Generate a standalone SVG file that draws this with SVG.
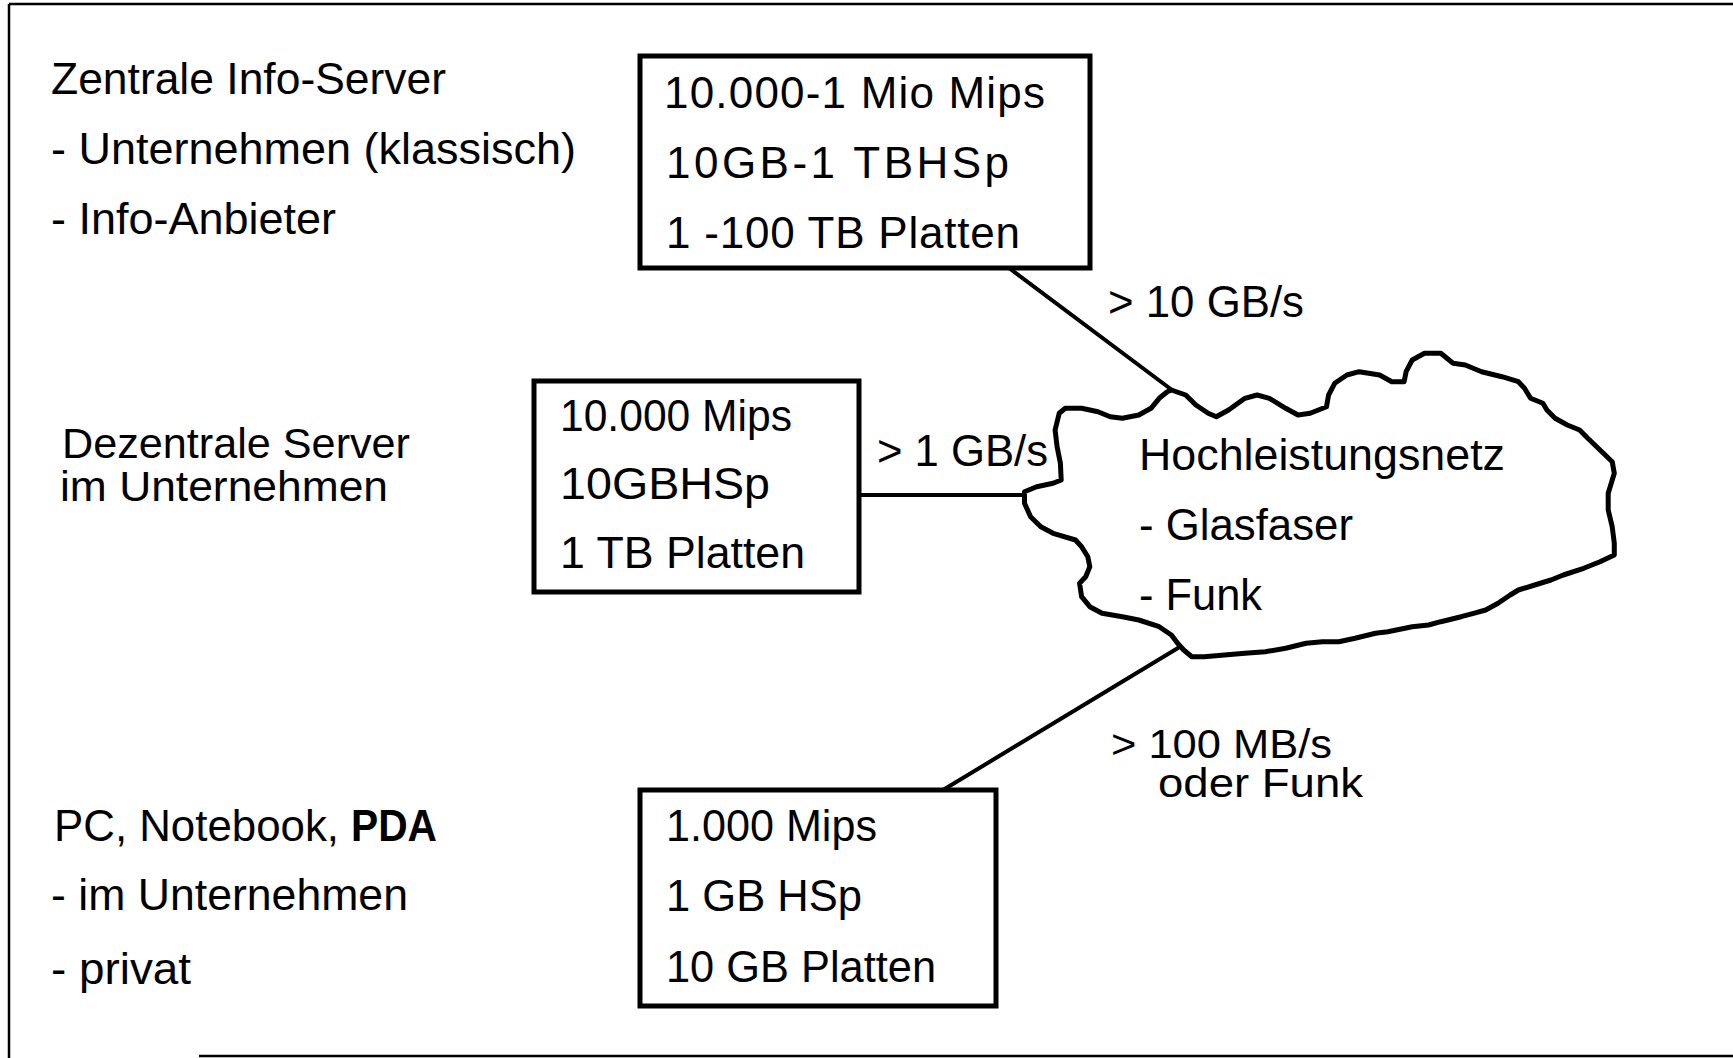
<svg xmlns="http://www.w3.org/2000/svg" width="1733" height="1058" viewBox="0 0 1733 1058">
<style>
  text { font-family: "Liberation Sans", Arial, Helvetica, sans-serif; font-size: 44px; fill: #000; }
  .b { font-weight: bold; }
  .t2 { font-size: 42px; }
  .t3 { font-size: 40px; }
  .box { fill: #fff; stroke: #000; stroke-width: 5; }
  .con { fill: none; stroke: #000; stroke-width: 4; stroke-linecap: round; }
  .frame { fill: none; stroke: #000; stroke-width: 2.5; }
  .cloud { fill: #fff; stroke: #000; stroke-width: 5; stroke-linejoin: round; }
</style>
<rect width="1733" height="1058" fill="#fff"/>
<g id="frame">
  <line class="frame" x1="9" y1="4" x2="1733" y2="4"/>
  <line class="frame" x1="9" y1="4" x2="9" y2="1058"/>
  <line class="frame" x1="199" y1="1056" x2="1733" y2="1056" stroke-width="2"/>
</g>
<g id="labels-left">
  <text x="51" y="94" textLength="395" lengthAdjust="spacingAndGlyphs">Zentrale Info-Server</text>
  <text x="51" y="164" textLength="525" lengthAdjust="spacingAndGlyphs">- Unternehmen (klassisch)</text>
  <text x="51" y="234" textLength="285" lengthAdjust="spacingAndGlyphs">- Info-Anbieter</text>
  <text class="t2" x="62" y="458" textLength="348" lengthAdjust="spacingAndGlyphs">Dezentrale Server</text>
  <text class="t2" x="60" y="501" textLength="328" lengthAdjust="spacingAndGlyphs">im Unternehmen</text>
  <text x="54" y="841" textLength="285" lengthAdjust="spacingAndGlyphs">PC, Notebook,</text>
  <text class="b" x="351" y="841" textLength="86" lengthAdjust="spacingAndGlyphs">PDA</text>
  <text x="51" y="910" textLength="357" lengthAdjust="spacingAndGlyphs">- im Unternehmen</text>
  <text x="51" y="984" textLength="140" lengthAdjust="spacingAndGlyphs">- privat</text>
</g>
<g id="connectors">
  <line class="con" x1="1009" y1="268" x2="1172" y2="390"/>
  <line class="con" x1="859" y1="495" x2="1025" y2="495"/>
  <line class="con" x1="943" y1="790" x2="1178" y2="648"/>
  <text x="1108" y="317" textLength="196" lengthAdjust="spacingAndGlyphs">&gt; 10 GB/s</text>
  <text x="877" y="466" textLength="171" lengthAdjust="spacingAndGlyphs">&gt; 1 GB/s</text>
  <text class="t3" x="1111" y="758" textLength="221" lengthAdjust="spacingAndGlyphs">&gt; 100 MB/s</text>
  <text class="t3" x="1158" y="797" textLength="205" lengthAdjust="spacingAndGlyphs">oder Funk</text>
</g>
<g id="node-zentral">
  <rect class="box" x="640" y="56" width="450" height="212"/>
  <text x="664" y="108" textLength="381" lengthAdjust="spacing">10.000-1 Mio Mips</text>
  <text x="666" y="178" textLength="343" lengthAdjust="spacing">10GB-1 TBHSp</text>
  <text x="666" y="248" textLength="354" lengthAdjust="spacing">1 -100 TB Platten</text>
</g>
<g id="node-dezentral">
  <rect class="box" x="534" y="381" width="325" height="211"/>
  <text x="560" y="431" textLength="232" lengthAdjust="spacingAndGlyphs">10.000 Mips</text>
  <text x="560" y="499" textLength="210" lengthAdjust="spacingAndGlyphs">10GBHSp</text>
  <text x="560" y="568" textLength="245" lengthAdjust="spacingAndGlyphs">1 TB Platten</text>
</g>
<g id="node-pc">
  <rect class="box" x="640" y="790" width="356" height="216"/>
  <text x="666" y="841" textLength="211" lengthAdjust="spacingAndGlyphs">1.000 Mips</text>
  <text x="666" y="911" textLength="196" lengthAdjust="spacingAndGlyphs">1 GB HSp</text>
  <text x="666" y="982" textLength="270" lengthAdjust="spacingAndGlyphs">10 GB Platten</text>
</g>
<g id="node-netz">
  <polygon class="cloud" points="1171.4,390 1185.7,395 1195.9,405 1208.2,413.3 1216.3,416.7 1228.6,410 1244.9,398.3 1257.1,395 1269.4,398.3 1285.7,408.3 1298,415 1310.2,413.3 1318.4,410 1326.5,406.7 1328.6,395 1334.7,383.3 1346.9,375 1359.2,371.7 1379.6,375 1391.8,381.7 1404.1,381.7 1406.1,371.7 1412.2,360 1424.5,353.3 1440.8,353.3 1453.1,363.3 1465.3,365 1481.6,371.7 1502,376.7 1518.4,381.7 1524.5,388.3 1530.6,398.3 1542.9,403.3 1546.9,410 1555.1,418.3 1567.3,425 1579.6,430 1587.8,438.3 1600,450 1612.2,461.7 1614.3,473.3 1608.2,493.3 1608.2,510 1612.2,526.7 1614.3,543.3 1614.3,555 1600,561.7 1583.7,568.3 1563.3,575 1551,580 1534.7,585 1518.4,590 1510.2,595 1498,603.3 1485.7,610 1473.5,613.3 1461.2,616.7 1440.8,621.7 1428.6,625 1412.2,626.7 1387.8,631.7 1375.5,633.3 1355.1,638.3 1338.8,641.7 1322.4,641.7 1306.1,643.3 1285.7,648.3 1265.3,651.7 1244.9,653.3 1224.5,655 1204.1,656.7 1191.8,656.7 1183.7,650 1177.6,643.3 1171.4,635 1159.2,626.7 1138.8,620 1122.4,616.7 1102,613.3 1089.8,606.7 1081.6,596.7 1079.6,583.3 1085.7,576.7 1089.8,566.7 1087.8,556.7 1081.6,546.7 1075.5,540 1053.1,533.3 1040.8,526.7 1030.6,516.7 1024.5,503.3 1024.5,491.7 1036.7,486.7 1053.1,483.3 1061.2,480 1060.4,463.3 1057.1,446.7 1055.1,430 1059.2,413.3 1065.3,408.3 1081.6,408.3 1098,411.7 1110.2,416.7 1122.4,418.3 1138.8,415 1151,408.3 1159.2,398.3 1167.3,391.7"/>
  <text x="1139" y="470" textLength="366" lengthAdjust="spacingAndGlyphs">Hochleistungsnetz</text>
  <text x="1139" y="540" textLength="214" lengthAdjust="spacingAndGlyphs">- Glasfaser</text>
  <text x="1139" y="610" textLength="123" lengthAdjust="spacingAndGlyphs">- Funk</text>
</g>
</svg>
